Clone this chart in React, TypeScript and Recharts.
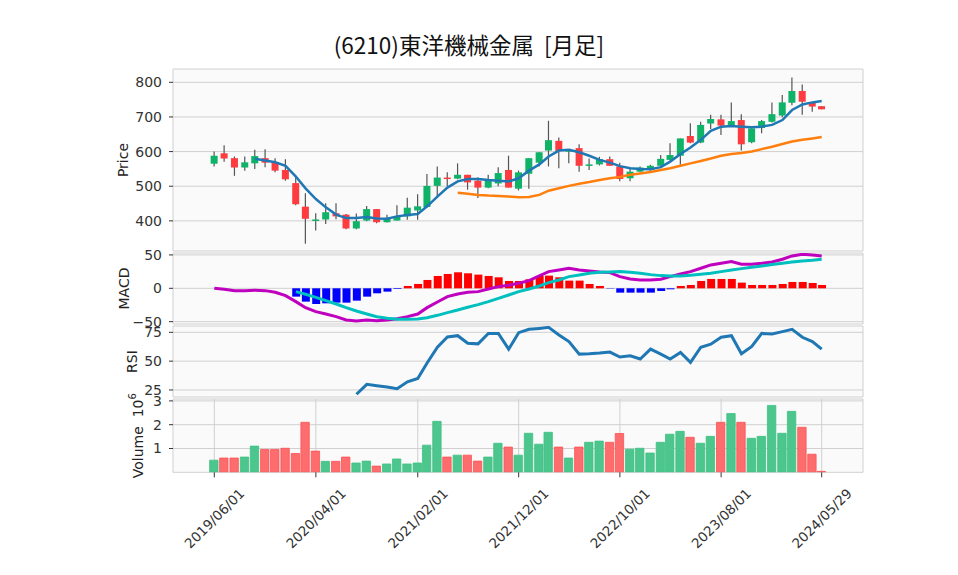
import React from 'react';
import { ComposedChart, Bar, Line, XAxis, YAxis, CartesianGrid, Cell } from 'recharts';

// 月足 2019/06 〜 2024/05 と最終日
const dates = [
  '2019-06-01', '2019-07-01', '2019-08-01', '2019-09-01', '2019-10-01', '2019-11-01', '2019-12-01',
  '2020-01-01', '2020-02-01', '2020-03-01', '2020-04-01', '2020-05-01', '2020-06-01',
  '2020-07-01', '2020-08-01', '2020-09-01', '2020-10-01', '2020-11-01', '2020-12-01',
  '2021-01-01', '2021-02-01', '2021-03-01', '2021-04-01', '2021-05-01', '2021-06-01',
  '2021-07-01', '2021-08-01', '2021-09-01', '2021-10-01', '2021-11-01', '2021-12-01',
  '2022-01-01', '2022-02-01', '2022-03-01', '2022-04-01', '2022-05-01', '2022-06-01',
  '2022-07-01', '2022-08-01', '2022-09-01', '2022-10-01', '2022-11-01', '2022-12-01',
  '2023-01-01', '2023-02-01', '2023-03-01', '2023-04-01', '2023-05-01', '2023-06-01',
  '2023-07-01', '2023-08-01', '2023-09-01', '2023-10-01', '2023-11-01', '2023-12-01',
  '2024-01-01', '2024-02-01', '2024-03-01', '2024-04-01', '2024-05-01', '2024-05-29',
];

const opens = [
  565, 595, 581, 554, 566, 581, 569,
  547, 509, 441, 401, 404, 422, 418, 378, 401, 434, 396, 401,
  413, 430, 440, 501, 525, 522, 533, 516, 496, 508, 547, 493,
  536, 568, 603, 631, 600, 610, 559, 563, 578, 557, 523, 542,
  549, 559, 576, 588, 645, 626, 681, 693, 675, 691, 627, 668,
  686, 704, 741, 775, 741, 731,
];
const highs = [
  600, 618, 586, 586, 605, 607, 581,
  578, 528, 480, 422, 451, 451, 420, 421, 443, 434, 418, 445,
  467, 477, 535, 557, 540, 566, 533, 526, 533, 555, 588, 545,
  581, 598, 689, 641, 605, 621, 580, 585, 586, 568, 552, 557,
  562, 590, 624, 638, 682, 686, 706, 706, 742, 708, 667, 691,
  742, 763, 814, 794, 741, 731,
];
const lows = [
  557, 571, 530, 545, 550, 555, 540,
  516, 445, 334, 372, 391, 405, 376, 376, 399, 393, 395, 401,
  403, 403, 438, 470, 501, 520, 490, 466, 494, 500, 496, 488,
  493, 557, 557, 552, 566, 542, 547, 560, 559, 514, 514, 540,
  545, 552, 574, 562, 624, 624, 665, 648, 675, 603, 624, 653,
  684, 699, 734, 706, 715, 722,
];
const closes = [
  588, 580, 554, 569, 587, 568, 545,
  520, 448, 406, 404, 425, 413, 378, 399, 434, 396, 407, 413,
  438, 442, 501, 525, 522, 533, 511, 496, 516, 538, 496, 540,
  581, 598, 633, 602, 604, 559, 563, 578, 559, 521, 542, 554,
  559, 579, 590, 638, 626, 677, 694, 675, 688, 621, 667, 688,
  708, 742, 775, 744, 730, 722,
];

// 移動平均
const maShort = [
  null, null, null, null, 579, 574, 569,
  559, 528, 494, 463, 439, 418, 408, 408, 411, 407, 406, 413,
  417, 420, 442, 470, 496, 514, 521, 521, 518, 516, 514, 523,
  545, 563, 586, 603, 605, 598, 588, 576, 568, 558, 552, 550,
  549, 555, 571, 593, 612, 634, 660, 672, 674, 672, 670, 672,
  677, 691, 720, 736, 742, 746,
];
const maLong = [
  null, null, null, null, null, null, null,
  null, null, null, null, null, null, null, null, null, null, null, null,
  null, null, null, null, null, 481, 478, 475, 473, 472, 470, 468,
  469, 475, 487, 494, 501, 507, 512, 518, 523, 527, 533, 537,
  541, 547, 552, 559, 566, 573, 580, 588, 593, 596, 600, 607,
  614, 622, 629, 634, 638, 642,
];

const macdLine = [
  0, -1.5, -3.5, -3.5, -3, -3.5, -6,
  -11, -20, -29, -35, -38.5, -42.5, -47.5, -49, -47.5, -48.5, -47.5, -45.5,
  -42.5, -38.5, -29, -20.5, -12.5, -8.5, -6, -5, -1, 2.5, 4.5, 7.5,
  11.5, 18.5, 25, 27.5, 30, 27.5, 26, 24.5, 23.5, 17.5, 14, 12.5,
  12.5, 13.5, 17.5, 21.5, 25, 30, 35, 37.5, 40, 36, 36, 37.5,
  39.5, 43.5, 48.5, 51, 50, 48.5,
];
const signalLine = [
  null, null, null, null, null, null, null,
  null, -5, -9, -13.5, -18.5, -23.5, -29, -34, -38.5, -42.5, -45, -46.5,
  -46.5, -46, -44, -40.5, -36.5, -32.5, -28.5, -24.5, -20, -15, -10, -5,
  -1, 3.5, 8.5, 12.5, 17.5, 20, 22.5, 24, 24.5, 25, 24, 22.5,
  20.5, 19, 18.5, 18.5, 19.5, 21, 22.5, 25, 27.5, 29.5, 31.5, 33.5,
  35.5, 37.5, 39.5, 41, 42, 43.5,
];
const macdHist = [
  null, null, null, null, null, null, null,
  null, -12.5, -20, -23.5, -22.5, -21.5, -21.5, -18.5, -12.5, -7.5, -5, -1,
  3.5, 6.5, 12.5, 18.5, 21.5, 24, 22.5, 20.5, 18.5, 16.5, 11, 11,
  13.5, 18.5, 19, 16.5, 11.5, 11.5, 6.5, 3.5, -0.5, -6.5, -6.5, -6.5,
  -6.5, -4, -1.5, 3.5, 5, 11, 14, 14, 14, 8.5, 5, 5,
  5, 6.5, 9.5, 9.5, 8, 5,
];

const rsi = [
  null, null, null, null, null, null, null,
  null, null, null, null, null, null, null, 21.3, 29.9, 28.7, 27.6, 26.1,
  32.1, 35, 48.4, 62.1, 71, 72.1, 65.6, 65, 74.1, 74.1, 60.4, 74.7,
  77.6, 78.4, 79.3, 72.7, 67, 56.1, 56.4, 57, 57.9, 53.6, 54.7, 51.9,
  60.4, 56.1, 51.9, 57.6, 49, 62.1, 64.7, 70.7, 72.1, 56.4, 62.7, 74.1,
  73.6, 75.6, 77.6, 70.7, 67, 60.4,
];

// 出来高（百万株）
const volumes = [
  0.51, 0.6, 0.6, 0.64, 1.1, 0.96, 0.96,
  1.01, 0.79, 2.1, 0.89, 0.46, 0.46, 0.64, 0.39, 0.47, 0.26, 0.35, 0.56,
  0.35, 0.39, 1.14, 2.14, 0.64, 0.72, 0.72, 0.47, 0.64, 1.22, 1.06, 0.72,
  1.64, 1.18, 1.68, 1.06, 0.6, 1.06, 1.26, 1.31, 1.26, 1.63, 0.97, 1.01,
  0.81, 1.26, 1.6, 1.72, 1.47, 1.22, 1.51, 2.1, 2.47, 2.1, 1.43, 1.51,
  2.81, 1.64, 2.56, 1.89, 0.76, 0.04,
];

const tickLabels = ['2019/06/01', '2020/04/01', '2021/02/01', '2021/12/01', '2022/10/01', '2023/08/01', '2024/05/29'];

const toTs = (s: string) => {
  const [y, m, d] = s.split(/[-/]/).map(Number);
  return Date.UTC(y, m - 1, d);
};
const DAY = 86400000;
const tickTs = tickLabels.map(toTs);
const xDomain = [tickTs[0] - 124 * DAY, tickTs[tickTs.length - 1] + 124 * DAY];

const data = dates.map((d, i) => ({
  t: toTs(d),
  open: opens[i],
  high: highs[i],
  low: lows[i],
  close: closes[i],
  range: [lows[i], highs[i]],
  maShort: maShort[i],
  maLong: maLong[i],
  macd: macdLine[i],
  signal: signalLine[i],
  hist: macdHist[i],
  rsi: rsi[i],
  vol: volumes[i],
  volUp: i === 0 ? closes[0] >= opens[0] : closes[i] >= closes[i - 1],
}));

const UP = '#0fb368';
const DOWN = '#fe3b3f';
const GRID = '#d0d0d0';
const BG = '#fafafa';
const FONT = 'DejaVu Sans, sans-serif';
const tickStyle = { fontSize: 14, fill: '#333', fontFamily: FONT };
const PAD = 14;
const margin = { top: PAD, right: 95, bottom: PAD, left: 113 };
const W = 958;

const Candle = (props: any) => {
  const { x, y, width, height, payload } = props;
  if (x == null || payload == null) return null;
  const top = Math.min(y, y + height);
  const h = Math.abs(height);
  const { open, close, high, low } = payload;
  const span = high - low || 1;
  const yOf = (v: number) => top + ((high - v) / span) * h;
  const bTop = yOf(Math.max(open, close));
  const bBot = yOf(Math.min(open, close));
  const cx = x + width / 2;
  const color = close >= open ? UP : DOWN;
  return (
    <g>
      <line x1={cx} x2={cx} y1={top} y2={top + h} stroke="#555" strokeWidth={1.2} />
      <rect x={x} y={bTop} width={width} height={Math.max(bBot - bTop, 1.5)} fill={color} />
    </g>
  );
};

const yLabel = (text: React.ReactNode, dx: number) => (p: any) => {
  const vb = p.viewBox;
  const cx = vb.x + vb.width - dx;
  const cy = vb.y + vb.height / 2;
  return (
    <text
      x={cx}
      y={cy}
      transform={`rotate(-90 ${cx} ${cy})`}
      textAnchor="middle"
      dominantBaseline="central"
      fontSize={14}
      fill="#222"
      fontFamily={FONT}
      style={{ whiteSpace: 'pre' }}
    >
      {text}
    </text>
  );
};

const DateTick = (props: any) => {
  const { x, y, payload } = props;
  const idx = tickTs.indexOf(payload.value);
  const cy = y + 39;
  return (
    <text
      x={x}
      y={cy}
      transform={`rotate(-45 ${x} ${cy})`}
      textAnchor="middle"
      dominantBaseline="central"
      fontSize={13.5}
      fill="#333"
      fontFamily={FONT}
    >
      {idx >= 0 ? tickLabels[idx] : ''}
    </text>
  );
};

const minus = (v: number) => (v < 0 ? '\u2212' + Math.abs(v) : String(v));

const HiddenX = () => (
  <XAxis
    dataKey="t"
    type="number"
    scale="linear"
    domain={xDomain}
    ticks={tickTs}
    allowDataOverflow
    height={0}
    tick={false}
    axisLine={false}
    tickLine={false}
  />
);

const yCommon = {
  type: 'number' as const,
  width: 60,
  allowDataOverflow: true,
  axisLine: false,
  tickSize: 4,
  tickMargin: 7,
  tickLine: { stroke: '#333' },
  tick: tickStyle,
  interval: 0 as const,
};

// panel plot areas (top, height)
const PRICE = [69, 182];
const MACD = [253, 71];
const RSI = [326, 71];
const VOL = [399, 73.3];

export default function App() {
  return (
    <div style={{ position: 'absolute', left: 0, top: 0, width: W, height: 575, background: '#fff' }}>
      <svg width={W} height={69} style={{ position: 'absolute', left: 0, top: 0 }}>
        <text
          x={469}
          y={54}
          textAnchor="middle"
          fontSize={22.5}
          fill="#111"
          fontFamily="'Noto Sans CJK JP', sans-serif"
          style={{ whiteSpace: 'pre' }}
        >
          (6210)東洋機械金属  [月足]
        </text>
      </svg>

      <div style={{ position: 'absolute', left: 0, top: PRICE[0] - PAD }}>
        <ComposedChart width={W} height={PRICE[1] + 2 * PAD} data={data} margin={margin}>
          <CartesianGrid stroke={GRID} fill={BG} />
          {HiddenX()}
          <YAxis {...yCommon} domain={[313, 838.4]} ticks={[400, 500, 600, 700, 800]} label={yLabel('Price', 50)} />
          <Bar dataKey="range" barSize={7} shape={<Candle />} isAnimationActive={false} />
          <Line dataKey="maShort" stroke="#1f77b4" strokeWidth={2.5} dot={false} activeDot={false} isAnimationActive={false} />
          <Line dataKey="maLong" stroke="#ff7f0e" strokeWidth={2.5} dot={false} activeDot={false} isAnimationActive={false} />
        </ComposedChart>
      </div>

      <div style={{ position: 'absolute', left: 0, top: MACD[0] - PAD }}>
        <ComposedChart width={W} height={MACD[1] + 2 * PAD} data={data} margin={margin}>
          <CartesianGrid stroke={GRID} fill={BG} />
          {HiddenX()}
          <YAxis {...yCommon} domain={[-53.5, 52.9]} ticks={[-50, 0, 50]} tickFormatter={minus} label={yLabel('MACD', 49)} />
          <Bar dataKey="hist" barSize={8} isAnimationActive={false}>
            {data.map((d, i) => (
              <Cell key={i} fill={d.hist != null && d.hist < 0 ? '#0000ff' : '#ff0000'} />
            ))}
          </Bar>
          <Line dataKey="macd" stroke="#bf00bf" strokeWidth={3} dot={false} activeDot={false} isAnimationActive={false} />
          <Line dataKey="signal" stroke="#00bfbf" strokeWidth={3} dot={false} activeDot={false} isAnimationActive={false} />
        </ComposedChart>
      </div>

      <div style={{ position: 'absolute', left: 0, top: RSI[0] - PAD }}>
        <ComposedChart width={W} height={RSI[1] + 2 * PAD} data={data} margin={margin}>
          <CartesianGrid stroke={GRID} fill={BG} />
          {HiddenX()}
          <YAxis {...yCommon} domain={[18.9, 80.5]} ticks={[25, 50, 75]} label={yLabel('RSI', 41)} />
          <Line dataKey="rsi" stroke="#1f77b4" strokeWidth={3} dot={false} activeDot={false} isAnimationActive={false} />
        </ComposedChart>
      </div>

      <div style={{ position: 'absolute', left: 0, top: VOL[0] - PAD }}>
        <ComposedChart width={W} height={VOL[1] + PAD + 100} data={data} margin={{ ...margin, bottom: 0 }}>
          <CartesianGrid stroke={GRID} fill={BG} />
          <XAxis
            dataKey="t"
            type="number"
            scale="linear"
            domain={xDomain}
            ticks={tickTs}
            allowDataOverflow
            height={100}
            interval={0}
            axisLine={false}
            tickSize={5}
            tickLine={{ stroke: '#333' }}
            tick={<DateTick />}
          />
          <YAxis
            {...yCommon}
            domain={[0, 3.08]}
            ticks={[1, 2, 3]}
            label={yLabel(
              <>
                {'Volume\u00a0\u00a010'}
                <tspan dy={-6} fontSize={10}>6</tspan>
              </>,
              35
            )}
          />
          <Bar dataKey="vol" barSize={10} isAnimationActive={false}>
            {data.map((d, i) => (
              <Cell
                key={i}
                fill={d.volUp ? '#4cc68d' : '#fd6d6e'}
                stroke={d.volUp ? '#3ec184' : '#fd5254'}
                strokeWidth={0.8}
              />
            ))}
          </Bar>
        </ComposedChart>
      </div>
    </div>
  );
}
